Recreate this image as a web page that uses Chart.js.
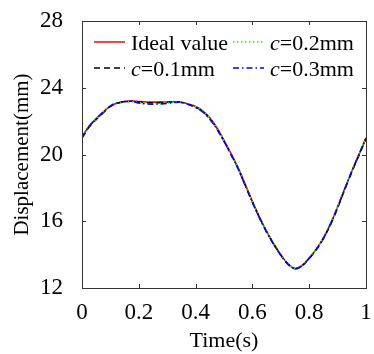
<!DOCTYPE html>
<html>
<head>
<meta charset="utf-8">
<script src="https://cdn.jsdelivr.net/npm/chart.js@4/dist/chart.umd.min.js"></script>
<style>
  html, body { margin: 0; padding: 0; background: #fff; }
  #wrap { width: 374px; height: 354px; position: relative; }
</style>
</head>
<body>
<div id="wrap"><canvas id="dispChart"></canvas></div>
<script>
const time = [0, 0.025, 0.05, 0.075, 0.1, 0.125, 0.15, 0.175, 0.2, 0.225, 0.25, 0.275, 0.3, 0.325, 0.35, 0.375,
    0.4, 0.425, 0.45, 0.475, 0.5, 0.525, 0.55, 0.575, 0.6, 0.625, 0.65, 0.675, 0.7, 0.725, 0.75, 0.775,
    0.8, 0.825, 0.85, 0.875, 0.9, 0.925, 0.95, 0.975, 1];
const ideal = [21.05, 21.7, 22.15, 22.55, 22.9, 23.08, 23.17, 23.2, 23.18, 23.15, 23.14, 23.14, 23.15, 23.16, 23.13, 23.02,
    22.88, 22.62, 22.2, 21.6, 20.85, 20.05, 19.2, 18.2, 17.2, 16.25, 15.4, 14.65, 14.0, 13.45, 13.17, 13.35,
    13.8, 14.33, 15.0, 15.85, 16.85, 17.95, 19.0, 20.0, 21.0];
const c01 = [21.0, 21.65, 22.1, 22.5, 22.88, 23.07, 23.16, 23.19, 23.15, 23.1, 23.1, 23.11, 23.13, 23.15, 23.12, 23.0,
    22.84, 22.58, 22.15, 21.55, 20.8, 20.0, 19.15, 18.15, 17.15, 16.22, 15.37, 14.63, 13.97, 13.44, 13.16, 13.33,
    13.77, 14.3, 14.96, 15.8, 16.8, 17.9, 18.95, 19.95, 20.95];
const c02 = [21.1, 21.72, 22.13, 22.57, 22.93, 23.1, 23.15, 23.16, 23.1, 23.05, 23.04, 23.05, 23.08, 23.13, 23.14, 23.03,
    22.86, 22.6, 22.17, 21.58, 20.83, 20.03, 19.18, 18.18, 17.17, 16.24, 15.39, 14.64, 13.99, 13.46, 13.18, 13.36,
    13.82, 14.35, 15.02, 15.87, 16.88, 17.97, 19.02, 20.02, 21.02];
const c03 = [21.0, 21.68, 22.12, 22.53, 22.9, 23.1, 23.18, 23.2, 23.08, 23.03, 23.02, 23.03, 23.06, 23.12, 23.13, 23.0,
    22.82, 22.55, 22.12, 21.52, 20.78, 19.98, 19.13, 18.13, 17.13, 16.19, 15.35, 14.61, 13.96, 13.43, 13.15, 13.32,
    13.78, 14.3, 14.97, 15.82, 16.83, 17.92, 18.98, 19.98, 20.97];
const xTicks = [0, 0.2, 0.4, 0.6, 0.8, 1];
const yTicks = [12, 16, 20, 24, 28];

const FONT = "'Liberation Serif', 'Times New Roman', serif";
Chart.defaults.font.family = FONT;
Chart.defaults.color = '#000';

function pts(vals) {
    return vals.map((v, i) => ({ x: time[i], y: v }));
}

function series(label, vals, color, dash, italic, order) {
    return {
        label: label,
        italicPrefix: italic,
        data: pts(vals),
        borderColor: color,
        borderWidth: 1.6,
        borderDash: dash,
        pointRadius: 0,
        fill: false,
        tension: 0.35,
        order: order
    };
}

// box + inward ticks, like the matlab axes
const boxPlugin = {
    id: 'boxPlugin',
    afterDatasetsDraw(chart) {
        const ctx = chart.ctx;
        const a = chart.chartArea;
        const xs = chart.scales.x, ys = chart.scales.y;
        ctx.save();
        ctx.strokeStyle = '#333';
        ctx.lineWidth = 1;
        ctx.strokeRect(a.left + 0.5, a.top + 0.5, a.right - a.left, a.bottom - a.top);
        ctx.beginPath();
        xTicks.slice(1, -1).forEach(t => {
            const px = Math.round(xs.getPixelForValue(t)) + 0.5;
            ctx.moveTo(px, a.bottom); ctx.lineTo(px, a.bottom - 4);
            ctx.moveTo(px, a.top); ctx.lineTo(px, a.top + 4);
        });
        yTicks.slice(1, -1).forEach(t => {
            const py = Math.round(ys.getPixelForValue(t)) + 0.5;
            ctx.moveTo(a.left, py); ctx.lineTo(a.left + 4, py);
            ctx.moveTo(a.right, py); ctx.lineTo(a.right - 4, py);
        });
        ctx.stroke();

        // legend, two columns
        const cols = [94, 233];
        const rows = [44, 70];
        const order = [0, 2, 1, 3];
        ctx.textBaseline = 'middle';
        order.forEach((di, k) => {
            const ds = chart.data.datasets[di];
            const x0 = cols[k % 2], y0 = rows[Math.floor(k / 2)];
            ctx.beginPath();
            ctx.strokeStyle = ds.borderColor;
            ctx.lineWidth = 1.5;
            ctx.setLineDash(ds.borderDash || []);
            ctx.moveTo(x0, y0 - 2); ctx.lineTo(x0 + 31, y0 - 2);
            ctx.stroke();
            ctx.setLineDash([]);
            ctx.fillStyle = '#000';
            let tx = x0 + 37;
            if (ds.italicPrefix) {
                ctx.font = 'italic 22px ' + FONT;
                ctx.fillText('c', tx, y0);
                tx += ctx.measureText('c').width;
            }
            ctx.font = '22px ' + FONT;
            ctx.fillText(ds.label, tx, y0);
        });
        ctx.restore();
    }
};

const chart = new Chart(document.getElementById('dispChart'), {
    type: 'line',
    data: {
        datasets: [
            series('Ideal value', ideal, '#ff0000', [], false, 4),
            series('=0.1mm', c01, '#000000', [6, 4], true, 3),
            series('=0.2mm', c02, '#22ee22', [1.5, 2.5], true, 2),
            series('=0.3mm', c03, '#0000ff', [6, 3, 1.5, 3], true, 1)
        ]
    },
    options: {
        responsive: true,
        maintainAspectRatio: false,
        animation: false,
        layout: { padding: { top: 21, right: 8, left: 0, bottom: 0 } },
        plugins: { legend: { display: false }, tooltip: { enabled: false } },
        scales: {
            x: {
                type: 'linear',
                min: 0, max: 1,
                afterBuildTicks: s => { s.ticks = xTicks.map(v => ({ value: v })); },
                afterFit: s => { s.height = 66; s.paddingLeft = 0; s.paddingRight = 0; },
                grid: { display: false },
                border: { display: false },
                ticks: { font: { size: 23 }, padding: 3, maxRotation: 0, callback: v => String(v) },
                title: { display: true, text: 'Time(s)', font: { size: 22 }, padding: { top: 1, bottom: 0 } }
            },
            y: {
                min: 12, max: 28,
                afterBuildTicks: s => { s.ticks = yTicks.map(v => ({ value: v })); },
                afterFit: s => { s.width = 82; s.paddingTop = 0; s.paddingBottom = 0; },
                grid: { display: false },
                border: { display: false },
                ticks: { font: { size: 23 }, padding: 11 },
                title: { display: true, text: 'Displacement(mm)', font: { size: 21 }, padding: { top: 10, bottom: 0 } }
            }
        }
    },
    plugins: [boxPlugin]
});
</script>
</body>
</html>
